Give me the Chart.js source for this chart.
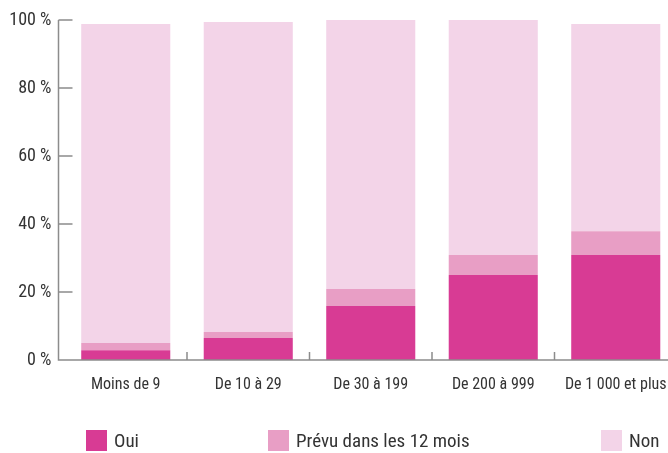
<!DOCTYPE html>
<html>
<head>
<meta charset="utf-8">
<script src="https://cdn.jsdelivr.net/npm/chart.js@4"></script>
<style>
  html, body { margin: 0; padding: 0; background: #fff; }
  #wrap { position: relative; width: 668px; height: 453px; overflow: hidden; }
  #box { position: absolute; left: 0; top: 0; width: 680px; height: 453px; }
  .leg { position: absolute; top: 430px; font-family: "Roboto Condensed", sans-serif; font-size: 19px; color: #333; line-height: 22px; white-space: nowrap; }
  .leg i { position: absolute; left: 0; top: 0; width: 21px; height: 21px; }
  .leg span { position: absolute; top: 0; }
</style>
</head>
<body>
<div id="wrap">
  <div id="box"><canvas id="chart" width="680" height="453"></canvas></div>
  <div id="legend"></div>
</div>
<script>
// catégories (taille d'entreprise)
const categories = ['Moins de 9', 'De 10 à 29', 'De 30 à 199', 'De 200 à 999', 'De 1 000 et plus'];

// valeurs en %
const oui = [2.9, 6.5, 15.9, 25.0, 30.9];
const prevu = [2.1, 1.7, 5.0, 5.9, 7.0];
const non = [93.8, 91.2, 79.1, 69.1, 60.9];

const yTicks = [0, 20, 40, 60, 80, 100];

const seriesNames = ['Oui', 'Prévu dans les 12 mois', 'Non'];
const seriesColors = ['#d83b94', '#e89ec5', '#f3d4e8'];

const axisColor = '#8c8c8c';
const textColor = '#333333';
const fontFamily = '"Roboto Condensed", sans-serif';

// axes dessinés à la main (ticks vers l'intérieur)
const axesPlugin = {
    id: 'axesPlugin',
    afterDatasetsDraw(chart) {
        const { ctx, chartArea, scales } = chart;
        const x0 = chartArea.left - 6;
        const yBase = scales.y.getPixelForValue(0);
        ctx.save();
        ctx.strokeStyle = axisColor;
        ctx.lineWidth = 1.5;
        ctx.beginPath();
        ctx.moveTo(x0, scales.y.getPixelForValue(100));
        ctx.lineTo(x0, yBase);
        ctx.lineTo(668, yBase);
        yTicks.forEach(v => {
            const y = scales.y.getPixelForValue(v);
            if (v === 0) return;
            ctx.moveTo(x0, y);
            ctx.lineTo(x0 + 14, y);
        });
        for (let i = 1; i < categories.length; i++) {
            const xb = (scales.x.getPixelForValue(i - 1) + scales.x.getPixelForValue(i)) / 2;
            ctx.moveTo(xb, yBase);
            ctx.lineTo(xb, yBase - 8);
        }
        ctx.stroke();
        ctx.restore();
    }
};

new Chart(document.getElementById('chart'), {
    type: 'bar',
    data: {
        labels: categories,
        datasets: [oui, prevu, non].map((d, i) => ({
            label: seriesNames[i],
            data: d,
            backgroundColor: seriesColors[i],
            borderWidth: 0,
            barPercentage: 0.727,
            categoryPercentage: 1
        }))
    },
    options: {
        responsive: false,
        animation: false,
        layout: { padding: { top: 20, right: 3, left: 0, bottom: 0 } },
        plugins: { legend: { display: false }, tooltip: { enabled: false } },
        scales: {
            x: {
                stacked: true,
                grid: { display: false, drawTicks: false },
                border: { display: false },
                ticks: { color: textColor, font: { family: fontFamily, size: 16 }, padding: 15, maxRotation: 0, autoSkip: false },
                afterFit: s => { s.height = 93; s.paddingLeft = 0; s.paddingRight = 0; }
            },
            y: {
                stacked: true,
                min: 0,
                max: 100,
                afterBuildTicks: s => { s.ticks = yTicks.map(v => ({ value: v })); },
                grid: { display: false, drawTicks: false },
                border: { display: false },
                ticks: {
                    color: textColor,
                    font: { family: fontFamily, size: 18 },
                    padding: 13,
                    callback: v => v + ' %'
                },
                afterFit: s => { s.width = 64.5; s.paddingTop = 0; s.paddingBottom = 0; }
            }
        }
    },
    plugins: [axesPlugin]
});

// légende HTML (espacement irrégulier comme l'original)
const legendX = [86, 268, 601];
const legend = document.getElementById('legend');
seriesNames.forEach((name, i) => {
    legend.insertAdjacentHTML('beforeend', `
        <div class="leg" style="left:${legendX[i]}px">
            <i style="background:${seriesColors[i]}"></i>
            <span style="left:28px">${name}</span>
        </div>`);
});
</script>
</body>
</html>
